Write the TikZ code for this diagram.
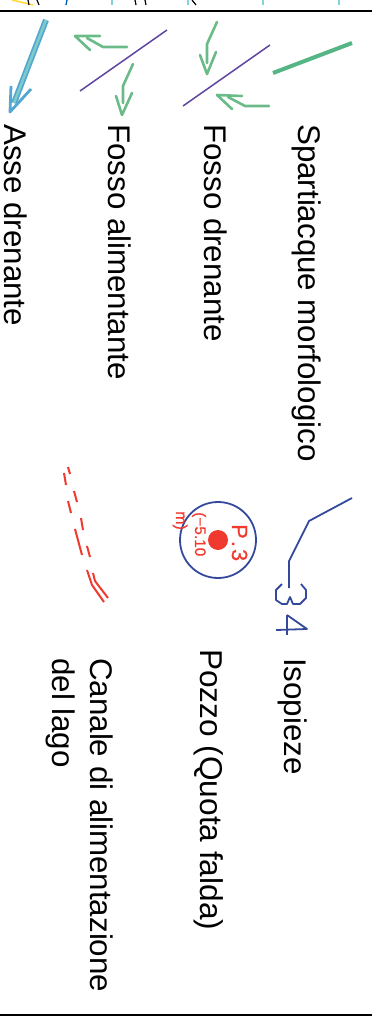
\documentclass[tikz,border=0pt]{standalone}
\usepackage{fontspec}
\setmainfont{Liberation Sans}
\definecolor{arrowgreen}{HTML}{6BBB88}
\definecolor{ridgegreen}{HTML}{55B585}
\definecolor{ditchpurple}{HTML}{5E45A0}
\definecolor{canalred}{HTML}{F0392F}
\definecolor{wellred}{HTML}{F0392F}
\definecolor{isoblue}{HTML}{34489C}
\definecolor{axisout}{HTML}{52A8D2}
\definecolor{axisin}{HTML}{80CBC8}
\definecolor{tickcyan}{HTML}{85D3DA}
\tikzset{
 lab/.style={rotate=-90,anchor=base west,inner sep=0pt,font=\fontsize{31.3}{36}\selectfont,text=black},
 wl/.style={rotate=-90,anchor=base west,inner sep=0pt,text=wellred},
 green arrow/.style={draw=arrowgreen,line width=2.6pt,line join=round,line cap=round},
 ditch/.style={draw=ditchpurple,line width=1.5pt},
 canal/.style={draw=canalred,line width=2pt},
 iso/.style={draw=isoblue,line width=1.8pt,line join=round},
 frame/.style={draw=black,line width=2pt}
}
\begin{document}
\begin{tikzpicture}[x=1pt,y=-1pt]
\useasboundingbox (0,0) rectangle (372,1016);
% cut-off pieces on top
\draw[draw=yellow!70!orange!80,line width=1.5pt] (12,0) -- (33,5);
\draw[black,line width=1.2pt] (28,0) -- (29,5) (37,0) -- (39,5);
\draw[blue!50!cyan!70!black,line width=1.3pt] (67,0) -- (66,5);
\draw[tickcyan,line width=1.5pt] (112,0) -- (112,5) (188,0) -- (188,5) (263,0) -- (263,5) (339,0) -- (339,5);
\draw[black,line width=1.2pt] (135,0) -- (136,5) (145,0) -- (146,5) (192,0) -- (196,5);
\draw[frame] (0,11) -- (372,11);
\draw[frame] (0,1014.5) -- (372,1014.5);
% labels
\node[lab] (l1) at (298,124) {Spartiacque morfologico};
\node[lab] (l2) at (204,124) {Fosso drenante};
\node[lab] (l3) at (108,124) {Fosso alimentante};
\node[lab] (l4) at (5,124) {Asse drenante};
\node[lab] (l5) at (284,658) {Isopieze};
\node[lab,font=\fontsize{31.6}{36}\selectfont] (l6) at (200,649) {Pozzo (Quota falda)};
\node[lab] (l7) at (90,658) {Canale di alimentazione};
\node[lab] (l8) at (52,658) {del lago};
% watershed
\draw[draw=ridgegreen,line width=4pt] (273,73) -- (352,43);
% drain ditch
\draw[ditch] (183,106) -- (270,45);
\draw[green arrow] (217,22) -- (207,44) -- (207,63);
\draw[green arrow] (216,52) -- (207,74) -- (200,55);
\draw[green arrow] (269,106) -- (245,106) -- (228,97);
\draw[green arrow] (232,109) -- (217,95) -- (242,96);
% feeding ditch
\draw[ditch] (80,91) -- (167,30);
\draw[green arrow] (127,47) -- (103,47) -- (87,38);
\draw[green arrow] (90,50) -- (75,36) -- (100,36);
\draw[green arrow] (133,64) -- (123,86) -- (123,103);
\draw[green arrow] (132,93) -- (122,115) -- (116,96);
% drainage axis
\draw[draw=axisout,line width=6pt] (46,20) -- (14,103);
\draw[draw=axisin,line width=2.5pt] (46,20) -- (14,103);
\draw[draw=axisout,line width=2.8pt,line join=round] (11,86) -- (10,112) -- (31,89);
% isopieze
\draw[iso] (352,498) -- (309,521) -- (289,561) -- (289,588);
\draw[iso] (282,584) -- (276,590) -- (276,600) -- (282,604) -- (287,604) -- (290,597) -- (293,604) -- (300,604) -- (306,598) -- (306,590) -- (301,584);
\draw[iso] (287,615) -- (307,629) -- (276,630);
\draw[iso] (287,615) -- (287,635);
% well
\draw[iso] (218,540) circle (38);
\fill[wellred] (218,540) circle (10);
\node[wl,font=\fontsize{22}{24}\selectfont\addfontfeature{FakeBold=0.5}] (p) at (232,524) {P\kern2pt.\kern2pt3};
\node[wl,font=\fontsize{15.4}{17}\selectfont\addfontfeature{FakeBold=0.5}] (q) at (195,512) {(−5.10};
\node[wl,font=\fontsize{16}{18}\selectfont\addfontfeature{FakeBold=0.5}] (r) at (176,511) {m)};
% canal
\draw[canal] (68,467) -- (70,474);
\draw[canal] (64,473) -- (66,485);
\draw[canal] (74,491) -- (77,502);
\draw[canal] (68,501) -- (71,513);
\draw[canal] (81,518) -- (83,530);
\draw[canal] (75,529) -- (82,555);
\draw[canal] (87,546) -- (90,557);
\draw[canal] (87,570) -- (92,585) -- (104,602);
\draw[canal] (93,573) -- (95,581) -- (108,598);
\end{tikzpicture}
\end{document}
